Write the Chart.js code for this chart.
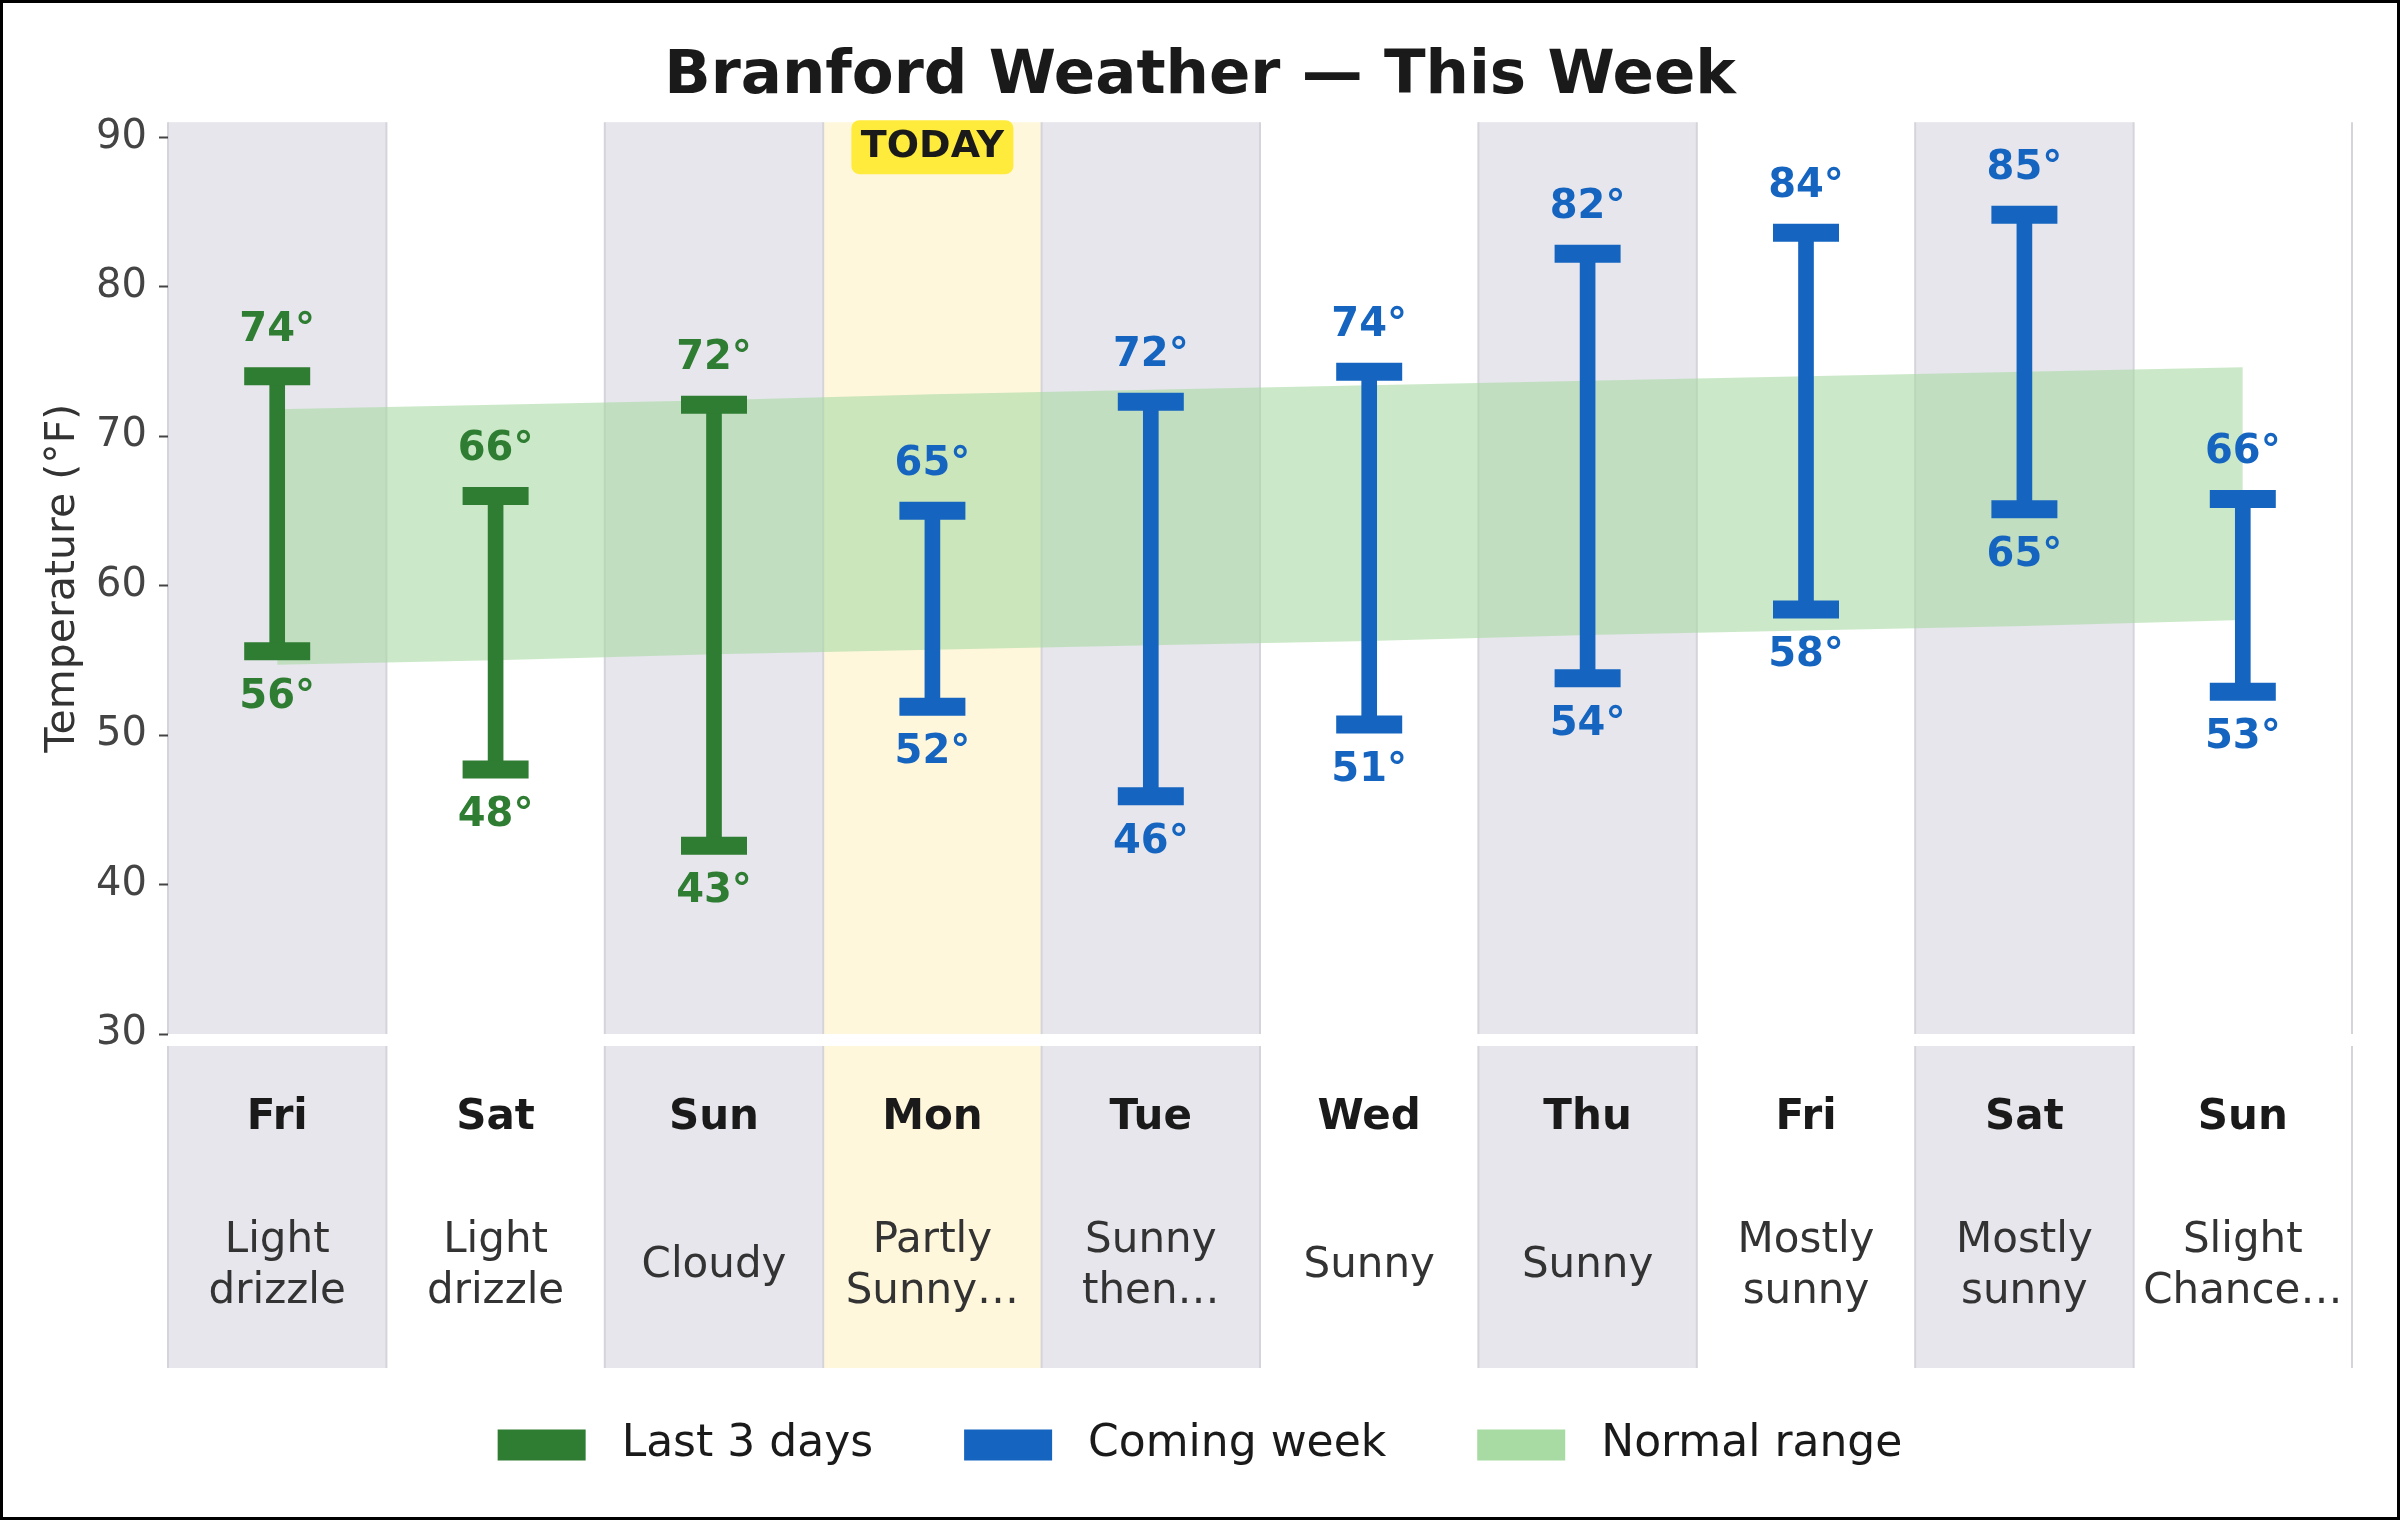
<!DOCTYPE html>
<html>
<head>
<meta charset="utf-8">
<title>Branford Weather — This Week</title>
<script src="https://cdn.jsdelivr.net/npm/chart.js@4.4.1/dist/chart.umd.min.js"></script>
<style>
  html, body { margin: 0; padding: 0; background: #fff; }
  .frame { width: 2400px; height: 1520px; box-sizing: border-box; border: 3px solid #000; background: #fff; }
  canvas { display: block; }
</style>
</head>
<body>
<div class="frame"><canvas id="weather" width="2394" height="1514"></canvas></div>
<script>
const days = ['Fri', 'Sat', 'Sun', 'Mon', 'Tue', 'Wed', 'Thu', 'Fri', 'Sat', 'Sun'];
const conditions = [
  ['Light', 'drizzle'], ['Light', 'drizzle'], 'Cloudy', ['Partly', 'Sunny…'], ['Sunny', 'then…'],
  'Sunny', 'Sunny', ['Mostly', 'sunny'], ['Mostly', 'sunny'], ['Slight', 'Chance…']
];
const highs = [74.0, 66.0, 72.1, 65.0, 72.3, 74.3, 82.2, 83.6, 84.8, 65.8];
const lows = [55.6, 47.7, 42.6, 51.9, 45.9, 50.7, 53.8, 58.4, 65.1, 52.9];
const normalHigh = [71.8, 72.1, 72.4, 72.8, 73.1, 73.4, 73.7, 74.0, 74.3, 74.6];
const normalLow = [54.7, 55.0, 55.4, 55.7, 56.0, 56.3, 56.7, 57.0, 57.3, 57.7];
const yTicks = [30, 40, 50, 60, 70, 80, 90];
const pastDays = 3;
const todayIndex = 3;

const GREEN = '#2e7d32';
const BLUE = '#1565c0';
const seriesColor = (i) => (i < pastDays ? GREEN : BLUE);

Chart.defaults.font.family = '"DejaVu Sans", sans-serif';

// big tick padding would otherwise leak into the side margins
const noSidePadding = (scale, h) => {
  scale.height = h;
  scale.paddingLeft = 0;
  scale.paddingRight = 0;
};

// shaded day columns behind the plot and the condition table
const columnBands = {
  id: 'columnBands',
  beforeDraw(chart) {
    const { ctx, chartArea, scales: { x } } = chart;
    const step = x.getPixelForValue(1) - x.getPixelForValue(0);
    const panels = [
      [chartArea.top, chartArea.bottom],
      [chartArea.bottom + 12, chartArea.bottom + 334]
    ];
    ctx.save();
    days.forEach((d, i) => {
      const left = x.getPixelForValue(i) - step / 2;
      ctx.fillStyle = i === todayIndex ? '#fff7dc' : (i % 2 === 0 ? '#e6e6ec' : '#ffffff');
      panels.forEach(([t, b]) => ctx.fillRect(left, t, step, b - t));
    });
    ctx.strokeStyle = '#d4d4da';
    ctx.lineWidth = 2;
    for (let i = 0; i <= days.length; i++) {
      const xp = x.getPixelForValue(0) - step / 2 + i * step;
      panels.forEach(([t, b]) => {
        ctx.beginPath();
        ctx.moveTo(xp, t);
        ctx.lineTo(xp, b);
        ctx.stroke();
      });
    }
    ctx.restore();
  }
};

// temperature labels on the caps + TODAY badge
const valueLabels = {
  id: 'valueLabels',
  afterDatasetsDraw(chart) {
    const { ctx, chartArea, scales: { x, y } } = chart;
    ctx.save();
    ctx.font = 'bold 40px "DejaVu Sans"';
    ctx.textAlign = 'center';
    ctx.textBaseline = 'middle';
    days.forEach((d, i) => {
      const cx = x.getPixelForValue(i);
      ctx.fillStyle = seriesColor(i);
      ctx.fillText(Math.round(highs[i]) + '°', cx, y.getPixelForValue(highs[i]) - 46);
      ctx.fillText(Math.round(lows[i]) + '°', cx, y.getPixelForValue(lows[i]) + 46);
    });

    const tx = x.getPixelForValue(todayIndex);
    const bw = 162, bh = 54;
    ctx.fillStyle = '#ffeb3b';
    ctx.beginPath();
    ctx.roundRect(tx - bw / 2, chartArea.top - 2, bw, bh, 8);
    ctx.fill();
    ctx.font = 'bold 38px "DejaVu Sans"';
    ctx.fillStyle = '#1a1a1a';
    ctx.fillText('TODAY', tx, chartArea.top - 2 + bh / 2);
    ctx.restore();
  }
};

const ctx = document.getElementById('weather').getContext('2d');
new Chart(ctx, {
  type: 'bar',
  data: {
    labels: days,
    datasets: [
      {
        label: 'Last 3 days',
        data: days.map((d, i) => (i < pastDays ? [lows[i], highs[i]] : null)),
        backgroundColor: GREEN,
        borderWidth: 0,
        borderSkipped: false,
        barThickness: 15,
        grouped: false,
        order: 2
      },
      {
        label: 'Coming week',
        data: days.map((d, i) => (i >= pastDays ? [lows[i], highs[i]] : null)),
        backgroundColor: BLUE,
        borderWidth: 0,
        borderSkipped: false,
        barThickness: 15,
        grouped: false,
        order: 2
      },
      {
        type: 'line',
        label: 'Normal range',
        data: normalHigh,
        borderColor: 'transparent',
        borderWidth: 0,
        backgroundColor: 'rgba(168, 219, 163, 0.6)',
        pointRadius: 0,
        fill: '+1',
        order: 3
      },
      {
        type: 'line',
        label: 'normal low',
        data: normalLow,
        borderColor: 'transparent',
        borderWidth: 0,
        pointRadius: 0,
        fill: false,
        order: 3
      },
      {
        type: 'line',
        label: 'high caps',
        data: highs,
        showLine: false,
        pointStyle: 'line',
        pointRadius: 33,
        pointHoverRadius: 33,
        pointBorderWidth: 18,
        pointBorderColor: days.map((d, i) => seriesColor(i)),
        pointBackgroundColor: days.map((d, i) => seriesColor(i)),
        order: 1
      },
      {
        type: 'line',
        label: 'low caps',
        data: lows,
        showLine: false,
        pointStyle: 'line',
        pointRadius: 33,
        pointHoverRadius: 33,
        pointBorderWidth: 18,
        pointBorderColor: days.map((d, i) => seriesColor(i)),
        pointBackgroundColor: days.map((d, i) => seriesColor(i)),
        order: 1
      }
    ]
  },
  options: {
    responsive: false,
    animation: false,
    events: [],
    // the wide cap markers would otherwise add auto padding on the right
    layout: { autoPadding: false, padding: { top: 0, right: 0, bottom: 40, left: 0 } },
    plugins: {
      title: {
        display: true,
        text: 'Branford Weather — This Week',
        color: '#1a1a1a',
        font: { size: 61, weight: 'bold' },
        padding: { top: 38, bottom: 8 }
      },
      legend: {
        position: 'bottom',
        labels: {
          color: '#1a1a1a',
          font: { size: 44 },
          boxWidth: 88,
          boxHeight: 31,
          padding: 91,
          filter: (item) => item.datasetIndex <= 2,
          generateLabels(chart) {
            const items = Chart.defaults.plugins.legend.labels.generateLabels(chart);
            items.forEach((item) => {
              item.lineWidth = 0;
              item.text = ' ' + item.text; // a bit more air between swatch and text
              if (item.datasetIndex === 2) item.fillStyle = '#a8dba3';
            });
            return items;
          }
        }
      },
      tooltip: { enabled: false }
    },
    scales: {
      x: {
        type: 'category',
        position: 'bottom',
        weight: 1,
        offset: true,
        grid: { display: false, drawTicks: false },
        border: { display: false },
        ticks: {
          color: '#1a1a1a',
          font: { size: 42, weight: 'bold' },
          padding: 59,
          maxRotation: 0,
          autoSkip: false
        },
        afterFit: (scale) => noSidePadding(scale, 100)
      },
      x2: {
        type: 'category',
        axis: 'x',
        position: 'bottom',
        weight: 2,
        labels: conditions,
        offset: true,
        grid: { display: false, drawTicks: false },
        border: { display: false },
        ticks: {
          color: '#333333',
          font: { size: 42, lineHeight: 1.214 },
          padding: 107,
          crossAlign: 'center',
          maxRotation: 0,
          autoSkip: false
        },
        afterFit: (scale) => noSidePadding(scale, 198)
      },
      y: {
        type: 'linear',
        min: 30,
        max: 91,
        afterBuildTicks: (scale) => { scale.ticks = yTicks.map((v) => ({ value: v })); },
        grid: { drawOnChartArea: false, drawTicks: true, tickLength: 9, tickWidth: 2, tickColor: '#444444' },
        border: { display: false },
        ticks: { color: '#444444', font: { size: 40 }, padding: 12 },
        title: {
          display: true,
          text: 'Temperature (°F)',
          color: '#333333',
          font: { size: 41 },
          padding: { top: 36 }
        },
        afterFit: (scale) => { scale.width = 165; }
      },
      // empty right-hand axis, only keeps the right margin inside the layout
      yRight: {
        type: 'linear',
        position: 'right',
        grid: { display: false, drawTicks: false },
        border: { display: false },
        ticks: { display: false },
        afterFit: (scale) => { scale.width = 45; }
      }
    }
  },
  plugins: [columnBands, valueLabels]
});
</script>
</body>
</html>
